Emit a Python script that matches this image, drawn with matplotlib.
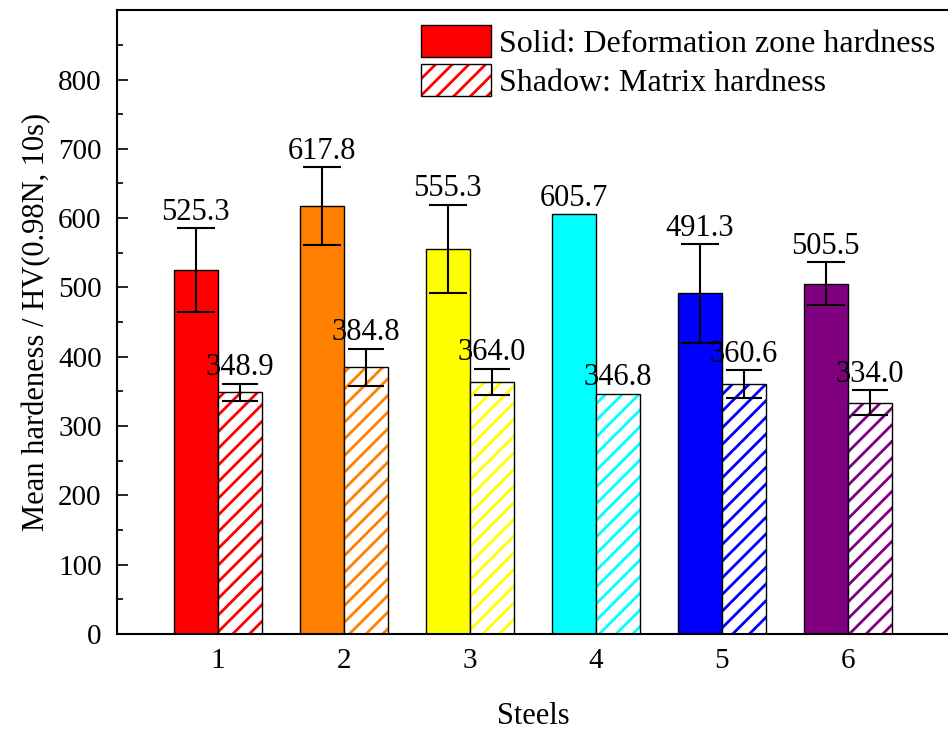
import numpy as np
import matplotlib.pyplot as plt
from matplotlib.patches import Patch
from matplotlib.legend_handler import HandlerTuple
from matplotlib.ticker import MultipleLocator

plt.rcParams['font.family'] = ['Liberation Serif', 'DejaVu Serif']
plt.rcParams['hatch.linewidth'] = 2.0

steels = [1, 2, 3, 4, 5, 6]
colors = ["#FF0000", "#FF8000", "#FFFF00", "#00FFFF", "#0000FF", "#800080"]

# deformation zone (solid) and matrix (hatched) hardness, HV
deform_hv = [525.3, 617.8, 555.3, 605.7, 491.3, 505.5]
deform_err = [60, 56, 64, 0, 71, 31]
matrix_hv = [348.9, 384.8, 364.0, 346.8, 360.6, 334.0]
matrix_err = [12, 27, 19, 0, 20, 18]

width = 0.35
fs = 22

fig = plt.figure(figsize=(9.48, 7.29), dpi=100)
ax = fig.add_axes([0.1234, 0.1303, 0.8785, 0.8557])

x = np.array(steels)
for i in range(len(steels)):
    ax.bar(x[i] - width / 2, deform_hv[i], width, color=colors[i],
           edgecolor="black", linewidth=1.0, zorder=2)
    ax.bar(x[i] + width / 2, matrix_hv[i], width, facecolor="white",
           edgecolor=colors[i], hatch="//", linewidth=0, zorder=2)
    ax.bar(x[i] + width / 2, matrix_hv[i], width, fill=False,
           edgecolor="black", linewidth=1.0, zorder=3)
    if deform_err[i] > 0:
        ax.errorbar(x[i] - width / 2, deform_hv[i], yerr=deform_err[i],
                    fmt="none", ecolor="black", elinewidth=1.5,
                    capsize=14, capthick=1.5, zorder=4)
    if matrix_err[i] > 0:
        ax.errorbar(x[i] + width / 2, matrix_hv[i], yerr=matrix_err[i],
                    fmt="none", ecolor="black", elinewidth=1.5,
                    capsize=13, capthick=1.5, zorder=4)
    ax.annotate("{:.1f}".format(deform_hv[i]),
                (x[i] - width / 2, deform_hv[i] + deform_err[i]),
                xytext=(0, 1), textcoords="offset points",
                ha="center", va="bottom", fontsize=fs)
    ax.annotate("{:.1f}".format(matrix_hv[i]),
                (x[i] + width / 2, matrix_hv[i] + matrix_err[i]),
                xytext=(0, 1), textcoords="offset points",
                ha="center", va="bottom", fontsize=fs)

ax.set_xlim(0.2, 6.81)
ax.set_ylim(0, 900)
ax.set_xticks(steels)
ax.set_yticks(np.arange(0, 801, 100))
ax.yaxis.set_minor_locator(MultipleLocator(50))
ax.tick_params(axis="y", which="major", direction="in", length=8, width=1.2,
               labelsize=21, pad=11)
ax.tick_params(axis="y", which="minor", direction="in", length=4, width=1.2)
ax.tick_params(axis="x", length=0, labelsize=21, pad=10)
for s in ax.spines.values():
    s.set_linewidth(1.5)

ax.set_xlabel("Steels", fontsize=fs, labelpad=20)
ax.set_ylabel("Mean hardeness / HV(0.98N, 10s)", fontsize=fs, labelpad=5)

solid_key = Patch(facecolor="#FF0000", edgecolor="black", linewidth=1.0)
hatch_key = (Patch(facecolor="white", edgecolor="#FF0000", hatch="//",
                   linewidth=0),
             Patch(fill=False, edgecolor="black", linewidth=1.0))
ax.legend([solid_key, hatch_key],
          ["Solid: Deformation zone hardness", "Shadow: Matrix hardness"],
          handler_map={tuple: HandlerTuple(ndivide=1, pad=0)},
          loc="upper right", frameon=False, fontsize=23,
          handlelength=2.2, handleheight=1.2, handletextpad=0.25,
          labelspacing=0.15, borderaxespad=0.05)

fig.savefig("out.png", dpi=100)
